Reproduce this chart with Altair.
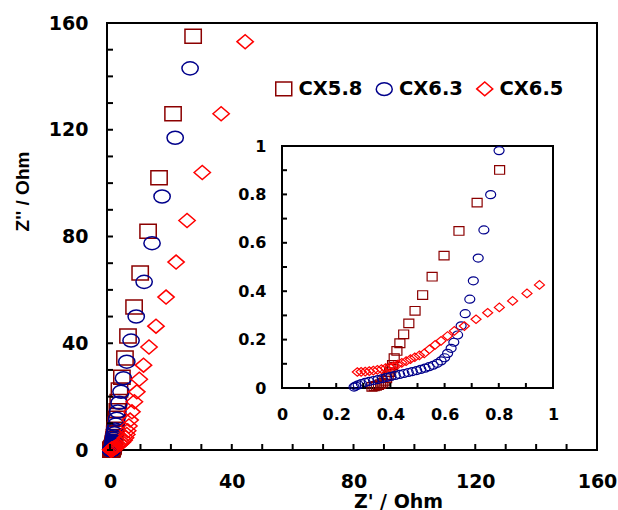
import altair as alt
import pandas as pd

# ---------------- data ----------------
series_names = ["CX5.8", "CX6.3", "CX6.5"]
series_colors = ["#8B0000", "#00008B", "#FF0000"]

cx58_re = [27.3, 20.7, 16.1, 12.5, 9.9, 7.9, 5.9, 4.9, 3.9, 3.1,
           2.7, 2.4, 2.1, 1.9, 1.7, 1.55, 1.42, 1.3, 1.2, 1.12,
           1.06, 1.0, 0.95, 0.91, 0.86, 0.803, 0.720, 0.653, 0.598, 0.554,
           0.519, 0.491, 0.468, 0.449, 0.435, 0.424, 0.414, 0.408, 0.402, 0.397,
           0.392, 0.386, 0.380, 0.372, 0.364, 0.356, 0.348, 0.340, 0.332]
cx58_im = [155, 126, 102, 82, 66.3, 53.6, 42.7, 34.5, 27.3, 22.5,
           18.2, 14.7, 11.9, 9.6, 7.8, 6.3, 5.1, 4.1, 3.3, 2.7,
           2.2, 1.8, 1.5, 1.27, 1.06, 0.901, 0.766, 0.649, 0.547, 0.460,
           0.384, 0.319, 0.267, 0.222, 0.185, 0.153, 0.123, 0.095, 0.080, 0.066,
           0.052, 0.040, 0.030, 0.022, 0.016, 0.012, 0.009, 0.007, 0.005]

cx63_re = [26.3, 21.4, 17.1, 13.8, 11.2, 8.6, 6.9, 5.5, 4.4, 3.6,
           3.0, 2.55, 2.2, 1.9, 1.65, 1.45, 1.3, 1.17, 1.07, 0.99,
           0.93, 0.88, 0.85, 0.82, 0.801, 0.770, 0.745, 0.724, 0.706, 0.693,
           0.676, 0.661, 0.648, 0.634, 0.624, 0.611, 0.600, 0.587, 0.573, 0.558,
           0.543, 0.528, 0.512, 0.497, 0.481, 0.466, 0.450, 0.434, 0.418, 0.402,
           0.386, 0.370, 0.354, 0.338, 0.322, 0.307, 0.293, 0.281, 0.272, 0.266]
cx63_im = [143, 117, 95, 77.5, 63, 50, 41, 33.1, 26.9, 21.8,
           17.7, 14.4, 11.7, 9.5, 7.7, 6.3, 5.1, 4.2, 3.4, 2.8,
           2.3, 1.85, 1.5, 1.22, 0.981, 0.799, 0.653, 0.537, 0.443, 0.367,
           0.307, 0.257, 0.219, 0.189, 0.164, 0.143, 0.125, 0.112, 0.102, 0.094,
           0.088, 0.082, 0.077, 0.072, 0.068, 0.064, 0.060, 0.056, 0.052, 0.048,
           0.044, 0.039, 0.035, 0.031, 0.027, 0.023, 0.018, 0.013, 0.008, 0.004]

cx65_re = [44.4, 36.5, 30.3, 25.3, 21.7, 18.4, 15.1, 12.8, 11.0, 9.6,
           8.8, 8.0, 7.2, 6.6, 6.2, 5.8, 5.5, 5.1, 4.6, 4.0,
           3.4, 2.8, 2.3, 1.9, 1.62, 1.38, 1.2, 1.06, 0.95, 0.904,
           0.851, 0.802, 0.759, 0.716, 0.673, 0.636, 0.611, 0.587, 0.565, 0.544,
           0.525, 0.507, 0.490, 0.474, 0.458, 0.442, 0.427, 0.412, 0.397, 0.382,
           0.367, 0.352, 0.337, 0.322, 0.307, 0.292, 0.278]
cx65_im = [153, 126, 104, 86, 70.4, 57.3, 46.4, 38.6, 31.8, 26.5,
           21.8, 18.1, 14.3, 11.2, 9.0, 7.2, 5.8, 4.6, 3.7, 2.95,
           2.35, 1.85, 1.45, 1.15, 0.92, 0.74, 0.6, 0.5, 0.426, 0.391,
           0.360, 0.333, 0.311, 0.284, 0.256, 0.236, 0.215, 0.195, 0.178, 0.160,
           0.143, 0.135, 0.127, 0.119, 0.111, 0.104, 0.097, 0.091, 0.086, 0.082,
           0.078, 0.075, 0.072, 0.070, 0.068, 0.067, 0.066]

main_label_values = [0, 40, 80, 120, 160]
main_tick_values = [0, 10, 20, 30, 40, 50, 60, 70, 80, 90, 100, 110, 120, 130, 140, 150, 160]
inset_label_values = [0, 0.2, 0.4, 0.6, 0.8, 1]
inset_tick_values = [0, 0.1, 0.2, 0.3, 0.4, 0.5, 0.6, 0.7, 0.8, 0.9, 1.0]

# ---------------- table ----------------
rows = []
for name, xs, ys in zip(series_names, [cx58_re, cx63_re, cx65_re], [cx58_im, cx63_im, cx65_im]):
    for a, b in zip(xs, ys):
        rows.append({"series": name, "zr": a, "zi": b})
df = pd.DataFrame(rows)

# ---------------- layout ----------------
W, H = 490, 427
IX0, IX1 = 175, 446      # inset left/right inside plot area
IY0, IY1 = 365, 123      # inset bottom/top inside plot area
FONT = "DejaVu Sans"

shape_paths = [
    "M-1,-0.86L1,-0.86L1,0.86L-1,0.86Z",
    "M-1,0A1,0.8 0 1,1 1,0A1,0.8 0 1,1 -1,0Z",
    "M-1,0L0,-0.86L1,0L0,0.86Z",
]

main_x = alt.Scale(domain=[-1, 160], range=[0, W], nice=False, zero=False)
main_y = alt.Scale(domain=[0, 160], range=[H, 0], nice=False, zero=False)
ins_x = alt.Scale(domain=[0, 1], range=[IX0, IX1], nice=False, zero=False)
ins_y = alt.Scale(domain=[0, 1], range=[IY0, IY1], nice=False, zero=False)

legend = alt.Legend(
    title=None, orient="none", legendX=167, legendY=56, direction="horizontal",
    labelFont=FONT, labelFontSize=19.5, labelFontWeight="bold", labelColor="black",
    symbolSize=256, symbolStrokeWidth=1.5, labelOffset=5, columnPadding=9.5, padding=0,
)
color_enc = alt.Color("series:N", scale=alt.Scale(domain=series_names, range=series_colors), legend=legend)
shape_enc = alt.Shape("series:N", scale=alt.Scale(domain=series_names, range=shape_paths), legend=legend)

main_points = alt.Chart(df).mark_point(filled=False, opacity=1, size=266, strokeWidth=1.5).encode(
    x=alt.X("zr:Q", scale=main_x, axis=alt.Axis(
        orient="bottom", values=main_label_values, ticks=False, tickSize=0, domain=False, grid=False,
        labelFontSize=19, labelPadding=22, labelFlush=False, labelOverlap=False,
        title="Z' / Ohm", titleFontSize=19, titleX=291, titleY=57, titleBaseline="alphabetic",
        titleAlign="center")),
    y=alt.Y("zi:Q", scale=main_y, axis=alt.Axis(
        orient="left", values=main_label_values, ticks=False, tickSize=0, domain=False, grid=False,
        labelFontSize=19, labelPadding=19, labelFlush=False, labelOverlap=False,
        title="Z'' / Ohm", titleFont="Liberation Sans", titleFontSize=19, titleX=-79, titleY=168,
        titleAngle=-90, titleBaseline="alphabetic", titleAlign="center")),
    color=color_enc,
    shape=shape_enc,
)

main_xticks = alt.Chart(pd.DataFrame({"t": main_tick_values})).mark_rule(color="black", strokeWidth=2).encode(
    x=alt.X("t:Q", scale=main_x, axis=None), y=alt.value(H), y2=alt.value(H - 6))
main_yticks = alt.Chart(pd.DataFrame({"t": main_tick_values})).mark_rule(color="black", strokeWidth=2).encode(
    y=alt.Y("t:Q", scale=main_y, axis=None), x=alt.value(0), x2=alt.value(6))

inset_frame = alt.Chart(pd.DataFrame({"a": [0]})).mark_rect(fill="white", stroke="black", strokeWidth=2).encode(
    x=alt.XDatum(0, type="quantitative", scale=ins_x, axis=alt.Axis(
        orient="bottom", offset=IY0 - H, values=inset_label_values, format="~g", ticks=False, tickSize=0,
        domain=False, grid=False, labelFontSize=16, labelPadding=18, labelFlush=False,
        labelOverlap=False, title=None)),
    x2=alt.X2Datum(1),
    y=alt.YDatum(0, type="quantitative", scale=ins_y, axis=alt.Axis(
        orient="left", offset=-IX0, values=inset_label_values, format="~g", ticks=False, tickSize=0,
        domain=False, grid=False, labelFontSize=16, labelPadding=16, labelFlush=False,
        labelOverlap=False, title=None)),
    y2=alt.Y2Datum(1),
)

inset_points = alt.Chart(df).transform_filter("datum.zr <= 1 && datum.zi <= 1").mark_point(
    filled=False, opacity=1, size=100, strokeWidth=1.2).encode(
    x=alt.X("zr:Q", scale=ins_x, axis=None),
    y=alt.Y("zi:Q", scale=ins_y, axis=None),
    color=color_enc,
    shape=shape_enc,
)

inset_xticks = alt.Chart(pd.DataFrame({"t": inset_tick_values})).mark_rule(color="black", strokeWidth=2).encode(
    x=alt.X("t:Q", scale=ins_x, axis=None), y=alt.value(IY0), y2=alt.value(IY0 - 5))
inset_yticks = alt.Chart(pd.DataFrame({"t": inset_tick_values})).mark_rule(color="black", strokeWidth=2).encode(
    y=alt.Y("t:Q", scale=ins_y, axis=None), x=alt.value(IX0), x2=alt.value(IX0 + 5))

chart = alt.layer(
    main_points, main_xticks, main_yticks, inset_frame, inset_points, inset_xticks, inset_yticks
).resolve_scale(x="independent", y="independent").properties(
    width=W, height=H,
    autosize=alt.AutoSizeParams(type="none"),
    padding={"left": 107, "top": 23, "right": 21, "bottom": 60},
    background="white",
).configure_view(stroke="black", strokeWidth=2).configure_axis(
    labelFont=FONT, labelFontWeight="bold", labelColor="black",
    titleFont=FONT, titleFontWeight="bold", titleColor="black",
)

chart.save("out.html", embed_options={"renderer": "svg", "actions": False})
